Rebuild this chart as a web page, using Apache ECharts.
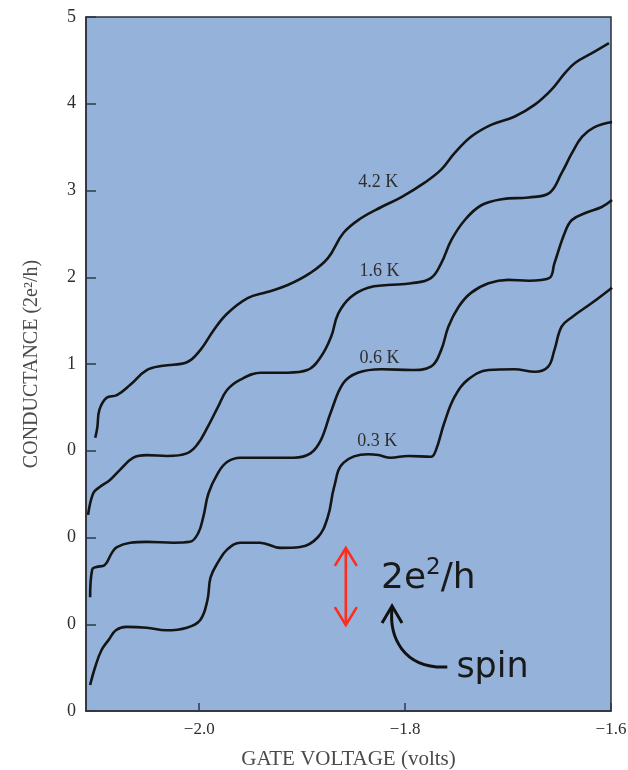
<!DOCTYPE html>
<html>
<head>
<meta charset="utf-8">
<script src="https://cdn.jsdelivr.net/npm/echarts@6/dist/echarts.min.js"></script>
<style>
html,body{margin:0;padding:0;background:#fff;}
#c{width:628px;height:770px;}
</style>
</head>
<body>
<div id="c"></div>
<script>
// ---- data (gate voltage in volts, plotted conductance in axis units; curves offset by 1 unit) ----
const xTicks = [-2.0, -1.8, -1.6];
const yTickLabels = ['0', '0', '0', '0', '1', '2', '3', '4', '5'];
const curveNames = ['0.3 K', '0.6 K', '1.6 K', '4.2 K'];

const v03 = [-2.106,-2.101,-2.095,-2.088,-2.081,-2.071,-2.051,-2.032,-2.012,-1.999,-1.992,-1.989,-1.982,-1.973,-1.960,-1.941,-1.921,-1.902,-1.885,-1.875,-1.869,-1.860,-1.836,-1.826,-1.814,-1.797,-1.775,-1.770,-1.762,-1.752,-1.739,-1.719,-1.694,-1.674,-1.661,-1.655,-1.648,-1.638,-1.619,-1.599];
const g03 = [0.30,0.51,0.70,0.82,0.93,0.97,0.96,0.93,0.96,1.05,1.28,1.54,1.71,1.86,1.94,1.94,1.88,1.89,2.00,2.24,2.58,2.86,2.96,2.95,2.92,2.94,2.93,3.01,3.32,3.62,3.82,3.93,3.94,3.91,3.97,4.16,4.43,4.54,4.70,4.88];

const v06 = [-2.106,-2.104,-2.100,-2.092,-2.085,-2.080,-2.067,-2.051,-2.025,-2.009,-2.001,-1.996,-1.991,-1.982,-1.973,-1.960,-1.934,-1.908,-1.892,-1.882,-1.872,-1.860,-1.846,-1.823,-1.794,-1.775,-1.765,-1.758,-1.748,-1.736,-1.719,-1.700,-1.680,-1.660,-1.655,-1.645,-1.638,-1.625,-1.609,-1.599];
const g06 = [1.31,1.63,1.66,1.68,1.82,1.89,1.94,1.95,1.94,1.95,2.05,2.24,2.51,2.74,2.87,2.92,2.92,2.92,2.97,3.12,3.45,3.78,3.90,3.94,3.93,3.97,4.16,4.43,4.66,4.82,4.93,4.97,4.96,4.99,5.16,5.51,5.66,5.74,5.81,5.89];

const v16 = [-2.108,-2.103,-2.097,-2.087,-2.077,-2.064,-2.051,-2.031,-2.012,-2.002,-1.992,-1.982,-1.973,-1.960,-1.940,-1.914,-1.895,-1.882,-1.872,-1.865,-1.853,-1.836,-1.817,-1.794,-1.775,-1.765,-1.755,-1.742,-1.726,-1.706,-1.680,-1.660,-1.648,-1.638,-1.628,-1.616,-1.599];
const g16 = [2.26,2.51,2.58,2.66,2.78,2.92,2.95,2.94,2.97,3.07,3.27,3.50,3.70,3.82,3.90,3.90,3.93,4.08,4.31,4.58,4.77,4.88,4.91,4.93,4.99,5.16,5.43,5.66,5.83,5.90,5.92,5.97,6.20,6.43,6.62,6.73,6.79];

const v42 = [-2.101,-2.099,-2.097,-2.090,-2.080,-2.067,-2.051,-2.035,-2.012,-1.999,-1.986,-1.973,-1.953,-1.934,-1.914,-1.892,-1.875,-1.860,-1.843,-1.823,-1.804,-1.781,-1.765,-1.752,-1.736,-1.716,-1.694,-1.674,-1.658,-1.645,-1.635,-1.619,-1.602];
const g42 = [3.15,3.27,3.47,3.61,3.64,3.76,3.93,3.98,4.02,4.16,4.39,4.58,4.76,4.83,4.91,5.05,5.22,5.51,5.68,5.81,5.92,6.09,6.24,6.43,6.62,6.76,6.85,6.99,7.16,7.35,7.47,7.58,7.70];

// ---- chart ----
const zip = (a, b) => a.map((x, i) => [x, b[i]]);
const curves = [zip(v03, g03), zip(v06, g06), zip(v16, g16), zip(v42, g42)];
const labelAt = [[-1.827, 3.11], [-1.825, 4.07], [-1.825, 5.07], [-1.826, 6.10]];
const SERIF = '"Liberation Serif", "DejaVu Serif", serif';
const SANS = '"DejaVu Sans", "Noto Sans", sans-serif';
const minus = v => v.toFixed(1).replace('-', '\u2212');

const chart = echarts.init(document.getElementById('c'), null, {renderer: 'canvas'});

const option = {
  animation: false,
  backgroundColor: '#ffffff',
  grid: {
    left: 86, right: 17, top: 17, bottom: 59,
    outerBoundsMode: 'none', containLabel: false,
    show: true, backgroundColor: '#95b3da', borderColor: '#2b2f36', borderWidth: 1.5
  },
  xAxis: {
    type: 'value', min: -2.11, max: -1.6,
    name: 'GATE VOLTAGE (volts)', nameLocation: 'middle', nameGap: 38,
    nameTextStyle: {fontFamily: SERIF, fontSize: 21, color: '#4a4a4a'},
    axisLine: {show: true, onZero: false, lineStyle: {color: '#2b2f36', width: 1.5}},
    axisTick: {show: true, inside: true, length: 8, customValues: xTicks, lineStyle: {color: '#2b3a4a', width: 1.5}},
    axisLabel: {customValues: xTicks, formatter: minus, margin: 10, fontFamily: SERIF, fontSize: 17, color: '#2e2e2e'},
    splitLine: {show: false}
  },
  yAxis: {
    type: 'value', min: 0, max: 8, interval: 1,
    name: 'CONDUCTANCE (2e\u00b2/h)', nameLocation: 'middle', nameGap: 44, nameRotate: 90,
    nameTextStyle: {fontFamily: SERIF, fontSize: 20, color: '#4a4a4a'},
    axisLine: {show: true, onZero: false, lineStyle: {color: '#2b2f36', width: 1.5}},
    axisTick: {show: true, inside: true, length: 10, lineStyle: {color: '#2b3a4a', width: 1.5}},
    axisLabel: {formatter: v => yTickLabels[v], margin: 10, fontFamily: SERIF, fontSize: 18, color: '#2e2e2e'},
    splitLine: {show: false}
  },
  series: curves.map((d, i) => ({
    type: 'line', name: curveNames[i], data: d,
    showSymbol: false, smooth: 0.4,
    lineStyle: {color: '#151515', width: 2.6},
    markPoint: {
      symbol: 'circle', symbolSize: 0, silent: true,
      label: {show: true, position: 'inside', formatter: curveNames[i], fontFamily: SERIF, fontSize: 18, color: '#2e2e2e'},
      data: [{coord: labelAt[i]}]
    }
  }))
};
chart.setOption(option);

// ---- annotations anchored in data coordinates ----
const P = (v, u) => chart.convertToPixel({gridIndex: 0}, [v, u]);
const redTop = P(-1.8576, 1.88), redBot = P(-1.8576, 0.99);
const txt = P(-1.8234, 1.314);
const spin = P(-1.7502, 0.496);
const tip = P(-1.8127, 1.21), tail = P(-1.759, 0.507);
const RED = '#ff2b1c';
chart.setOption({
  graphic: [
    {type: 'line', shape: {x1: redTop[0], y1: redTop[1] + 1, x2: redBot[0], y2: redBot[1] - 1}, style: {stroke: RED, lineWidth: 2.6}},
    {type: 'polyline', shape: {points: [[redTop[0] - 11, redTop[1] + 18], [redTop[0], redTop[1]], [redTop[0] + 11, redTop[1] + 18]]}, style: {stroke: RED, lineWidth: 2.6, fill: null}},
    {type: 'polyline', shape: {points: [[redBot[0] - 11, redBot[1] - 18], [redBot[0], redBot[1]], [redBot[0] + 11, redBot[1] - 18]]}, style: {stroke: RED, lineWidth: 2.6, fill: null}},
    {type: 'text', x: txt[0], y: txt[1], style: {
      text: '{a|2e}{s|2}{a|/h}', textVerticalAlign: 'bottom', textAlign: 'left',
      rich: {
        a: {fontFamily: SANS, fontSize: 36, fill: '#1a1a1a', verticalAlign: 'bottom', lineHeight: 40},
        s: {fontFamily: SANS, fontSize: 23, fill: '#1a1a1a', verticalAlign: 'top', lineHeight: 40, padding: [0, 0, 14, 0]}
      }
    }},
    {type: 'text', x: spin[0], y: spin[1], style: {text: 'spin', fontFamily: SANS, fontSize: 35, fill: '#1a1a1a', textVerticalAlign: 'middle', textAlign: 'left'}},
    {type: 'bezierCurve', shape: {x1: tail[0], y1: tail[1], cpx1: tail[0] - 45, cpy1: tail[1] + 2, cpx2: tip[0] - 3, cpy2: tip[1] + 30, x2: tip[0], y2: tip[1] + 2}, style: {stroke: '#111', lineWidth: 3, fill: null}},
    {type: 'polyline', shape: {points: [[tip[0] - 10, tip[1] + 17], [tip[0], tip[1]], [tip[0] + 10, tip[1] + 17]]}, style: {stroke: '#111', lineWidth: 3, fill: null}}
  ]
});
</script>
</body>
</html>
